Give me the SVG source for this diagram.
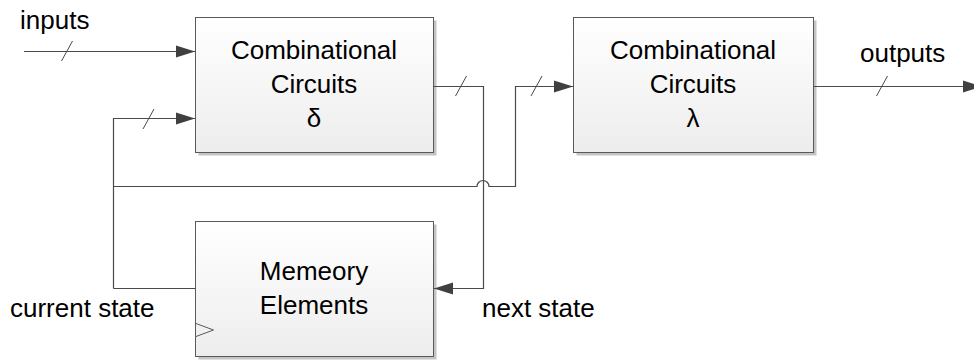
<svg xmlns="http://www.w3.org/2000/svg" width="974" height="360" viewBox="0 0 974 360">
  <style>
    .box { fill: url(#boxFill); stroke: #595959; stroke-width: 1; }
    .shadow { fill: #c4c4c4; }
    .wire { fill: none; stroke: #4a4a4a; stroke-width: 1.2; }
    .bus { fill: none; stroke: #4a4a4a; stroke-width: 1; }
    .clk { fill: none; stroke: #595959; stroke-width: 1; }
    text { font-family: "Liberation Sans", Arial, sans-serif; font-size: 26px; fill: #000; }
    .c { text-anchor: middle; }
  </style>
  <defs>
    <linearGradient id="boxFill" x1="0" y1="0" x2="0" y2="1">
      <stop offset="0" stop-color="#ffffff"/>
      <stop offset="1" stop-color="#ededed"/>
    </linearGradient>
    <marker id="arrow" markerUnits="userSpaceOnUse" markerWidth="20" markerHeight="14" refX="19" refY="6.5" orient="auto">
      <polygon points="0,0.5 19,6.5 0,12.5" fill="#404040"/>
    </marker>
  </defs>

  <!-- combinational logic computing the next state -->
  <g id="comb-delta">
    <rect class="shadow" x="198.5" y="20.5" width="238" height="135"/>
    <rect class="box" x="195.5" y="17.5" width="238" height="135"/>
    <text class="c" x="314" y="59">Combinational</text>
    <text class="c" x="314" y="93">Circuits</text>
    <text class="c" x="314" y="127">δ</text>
  </g>

  <!-- combinational logic computing the outputs -->
  <g id="comb-lambda">
    <rect class="shadow" x="576.5" y="20.5" width="240" height="135"/>
    <rect class="box" x="573.5" y="17.5" width="240" height="135"/>
    <text class="c" x="693" y="59">Combinational</text>
    <text class="c" x="693" y="93">Circuits</text>
    <text class="c" x="693" y="127">λ</text>
  </g>

  <!-- clocked state register -->
  <g id="memory">
    <rect class="shadow" x="198.5" y="224.5" width="238" height="135"/>
    <rect class="box" x="195.5" y="221.5" width="238" height="135"/>
    <polyline class="clk" points="196,323.5 213.5,330 196,336.5"/>
    <text class="c" x="314" y="280">Memeory</text>
    <text class="c" x="314" y="314">Elements</text>
  </g>

  <!-- wires and bus markers -->
  <g id="connectors">
    <path class="wire" d="M24 51.5 H195" marker-end="url(#arrow)"/>
    <path class="wire" d="M113.5 288.5 H195.5 M113.5 288.5 V118.5 H195" marker-end="url(#arrow)"/>
    <path class="wire" d="M113.5 186.5 H477 A6 6 0 0 1 489 186.5 H515.5 V86.5 H573" marker-end="url(#arrow)"/>
    <path class="wire" d="M433.5 86.5 H483.5 V288.5 H434" marker-end="url(#arrow)"/>
    <path class="wire" d="M813.5 86.5 H982" marker-end="url(#arrow)"/>
    <!-- bus width slashes -->
    <path class="bus" d="M61.5 61 L72.5 41 M143 129 L154 109 M455.5 96 L466.5 76 M531 96 L542 76 M876.5 96 L887.5 76"/>
  </g>

  <!-- signal labels -->
  <g id="labels">
    <text x="20" y="29">inputs</text>
    <text x="860" y="62">outputs</text>
    <text x="10" y="317">current state</text>
    <text x="482" y="317">next state</text>
  </g>
</svg>
